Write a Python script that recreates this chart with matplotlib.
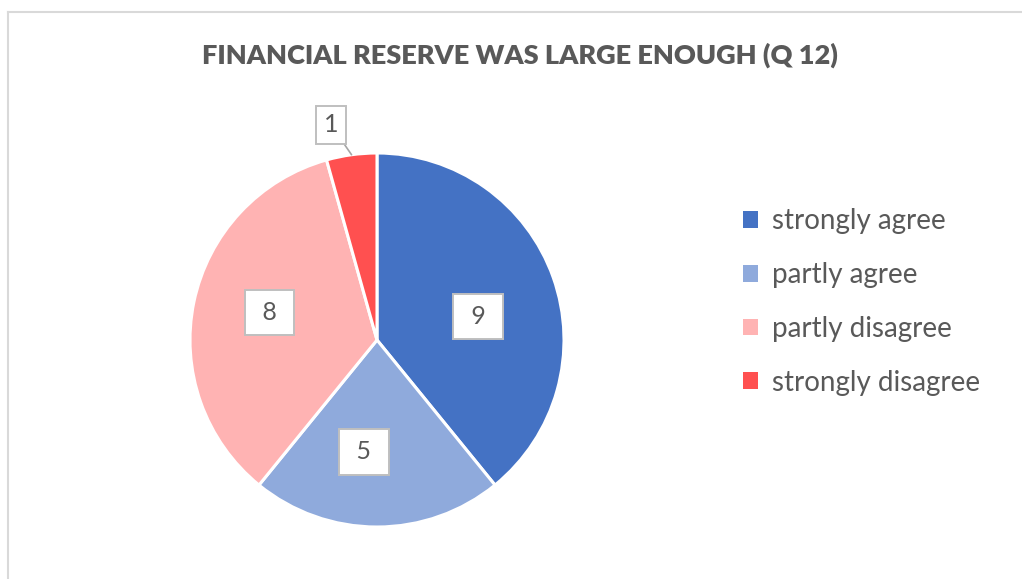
import matplotlib.pyplot as plt
from matplotlib.patches import Patch
import numpy as np

plt.rcParams['font.family'] = ['Lato', 'DejaVu Sans']

categories = ['strongly agree', 'partly agree', 'partly disagree', 'strongly disagree']
counts = [9, 5, 8, 1]
colors = ['#4472C4', '#8FAADC', '#FFB3B3', '#FF5050']
title = 'FINANCIAL RESERVE WAS LARGE ENOUGH (Q 12)'
txt = '#595959'

fig = plt.figure(figsize=(10.22, 5.79), dpi=100)

# chart frame (only top and left edges show)
fig.add_artist(plt.Line2D([7.5 / 1022, 1.0], [1 - 12 / 579] * 2, color='#D9D9D9', lw=1.5))
fig.add_artist(plt.Line2D([7.5 / 1022] * 2, [0, 1 - 12 / 579], color='#D9D9D9', lw=1.5))

fig.text(520 / 1022, 1 - 55 / 579, title, ha='center', va='center',
         fontsize=19.5, fontweight='heavy', color=txt)

# pie axes: centre (377, 340), radius 187 px
cx, cy, r = 377, 340, 187
ax = fig.add_axes([(cx - r) / 1022, 1 - (cy + r) / 579, 2 * r / 1022, 2 * r / 579])
wedges, _ = ax.pie(counts, colors=colors, startangle=90, counterclock=False,
                   wedgeprops=dict(edgecolor='white', linewidth=2.2))
ax.set_xlim(-1, 1)
ax.set_ylim(-1, 1)
ax.set_aspect('equal')

box = dict(boxstyle='square,pad=0.45', fc='white', ec='#BFBFBF', lw=1.4)
box_small = dict(boxstyle='square,pad=0.3', fc='white', ec='#BFBFBF', lw=1.4)
for w, n in zip(wedges, counts):
    mid = np.deg2rad((w.theta1 + w.theta2) / 2)
    if n / sum(counts) > 0.1:
        a = mid - np.deg2rad(5)
        x, y = 0.58 * np.cos(a), 0.58 * np.sin(a)
        ax.text(x - 0.02, y - 0.02, f' {n} ', ha='center', va='center', fontsize=18,
                color=txt, bbox=box)
    else:
        ex, ey = np.cos(mid), np.sin(mid)
        ax.annotate(str(n), xy=(ex, ey), xytext=(ex - 0.11, ey + 0.16),
                    ha='center', va='center', fontsize=18, color=txt,
                    bbox=box_small,
                    arrowprops=dict(arrowstyle='-', color='#A6A6A6', lw=1.2,
                                    shrinkA=0, shrinkB=0),
                    annotation_clip=False)

handles = [Patch(facecolor=c, edgecolor='none') for c in colors]
fig.legend(handles, categories, loc='center left',
           bbox_to_anchor=(718 / 1022, 1 - 302 / 579), frameon=False,
           fontsize=20, labelcolor=txt, handlelength=0.55, handleheight=0.55,
           handletextpad=0.5, labelspacing=1.0)

fig.savefig('out.png', dpi=100, facecolor='white')
